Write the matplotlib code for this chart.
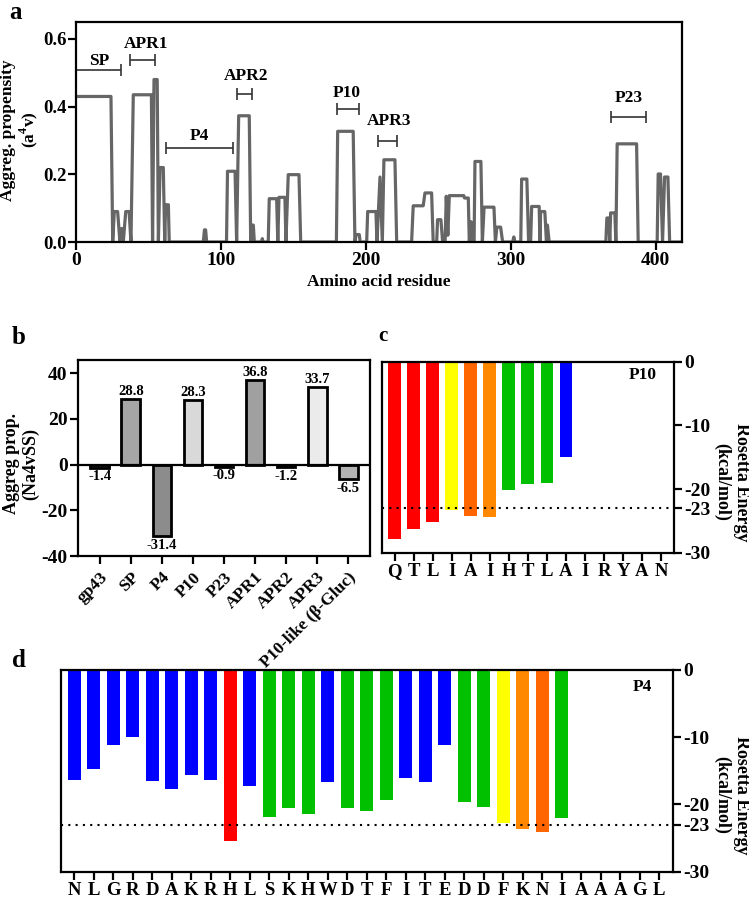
import matplotlib
matplotlib.use('Agg')
import matplotlib.pyplot as plt
import numpy as np

plt.rcParams['font.family'] = ['Liberation Serif', 'DejaVu Serif']
plt.rcParams['font.weight'] = 'bold'
plt.rcParams['axes.labelweight'] = 'bold'
plt.rcParams['mathtext.fontset'] = 'custom'
plt.rcParams['mathtext.rm'] = 'Liberation Serif:bold'
plt.rcParams['mathtext.bf'] = 'Liberation Serif:bold'
plt.rcParams['axes.linewidth'] = 1.6
plt.rcParams['axes.unicode_minus'] = False

# ---- data: panel a (aggregation profile, residue vs propensity)
residue = [0, 24.1, 25.3, 26.4, 28.7, 30.3, 31.5, 32.6, 34.3, 36.6, 37.9, 39.5, 52.0, 52.8,
           53.8, 56.0, 56.8, 58.0, 60.2, 61.2, 61.8, 63.7, 64.3, 87.8, 88.6, 89.4, 90.1,
           103.8, 104.5, 109.7, 110.8, 112.2, 119.5, 120.5, 121.0, 122.3, 123.0, 128.0, 128.5,
           129.0, 132.6, 133.3, 138.4, 139.2, 140.0, 144.1, 144.8, 146.4, 153.8, 155.0, 179.6,
           180.5, 191.2, 192.4, 193.2, 195.4, 196.0, 200.5, 201.2, 206.9, 207.6, 209.7, 211.3,
           212.4, 220.0, 221.2, 231.5, 232.6, 239.5, 240.7, 245.3, 246.4, 248.8, 249.4, 251.7,
           252.9, 254.6, 255.4, 256.5, 257.5, 267.5, 268.0, 270.6, 271.3, 272.5, 273.5, 274.6,
           275.2, 279.3, 280.3, 281.5, 288.3, 289.3, 290.3, 292.9, 294.3, 301.2, 302.0, 302.8,
           306.8, 307.4, 311.0, 312.2, 313.6, 314.3, 319.5, 320.0, 320.5, 323.4, 324.5, 325.2,
           326.4, 365.5, 366.2, 367.6, 368.2, 368.8, 371.7, 372.4, 373.3, 386.7, 387.8, 400.9,
           401.6, 403.2, 404.6, 406.0, 408.3, 409.5, 418.0]
propensity = [0.43, 0.43, 0, 0.09, 0.09, 0, 0.04, 0, 0.09, 0.09, 0, 0.435, 0.435, 0,
              0.48, 0.48, 0, 0.22, 0.22, 0, 0.11, 0.11, 0, 0, 0.036, 0.036, 0,
              0, 0.209, 0.209, 0, 0.373, 0.373, 0, 0.05, 0.05, 0, 0, 0.01,
              0, 0, 0.128, 0.128, 0, 0.132, 0.132, 0, 0.199, 0.199, 0, 0,
              0.327, 0.327, 0, 0.022, 0.022, 0, 0, 0.09, 0.09, 0, 0.192, 0,
              0.243, 0.243, 0, 0, 0.107, 0.107, 0.145, 0.145, 0, 0, 0.066, 0.066,
              0, 0, 0.135, 0.02, 0.137, 0.137, 0.13, 0.13, 0, 0.06, 0, 0,
              0.238, 0.238, 0, 0.103, 0.103, 0, 0.044, 0.044, 0, 0, 0.015, 0,
              0, 0.186, 0.186, 0, 0, 0.105, 0.105, 0, 0.09, 0.09, 0, 0.05,
              0, 0, 0.071, 0.071, 0, 0.086, 0.086, 0, 0.29, 0.29, 0, 0,
              0.201, 0.201, 0, 0.192, 0.192, 0, 0]

# annotated regions in panel a
region_names = ['SP', 'APR1', 'P4', 'APR2', 'P10', 'APR3', 'P23']
region_start = [0, 37, 62, 110.8, 180, 208.5, 369]
region_end = [31, 54.3, 108, 121.6, 195, 221.6, 393]
region_bar_y = [0.507, 0.538, 0.279, 0.436, 0.393, 0.297, 0.368]
region_label_x = [16, 48, 85, 117, 187, 216, 381]
region_label_y = [0.536, 0.586, 0.312, 0.49, 0.44, 0.358, 0.424]

# ---- panel b
peptides = ['gp43', 'SP', 'P4', 'P10', 'P23', 'APR1', 'APR2', 'APR3', 'P10-like (β-Gluc)']
na4vss = [-1.4, 28.8, -31.4, 28.3, -0.9, 36.8, -1.2, 33.7, -6.5]
b_colors = ['#808080', '#a6a6a6', '#8c8c8c', '#d9d9d9', '#808080', '#a0a0a0', '#808080',
            '#ebebeb', '#b3b3b3']

# ---- panel c (P10)
p10_seq = ['Q', 'T', 'L', 'I', 'A', 'I', 'H', 'T', 'L', 'A', 'I', 'R', 'Y', 'A', 'N']
p10_energy = [-27.8, -26.3, -25.2, -23.2, -24.2, -24.35, -20.1, -19.2, -19.0, -15.0]
p10_colors = ['#ff0000', '#ff0000', '#ff0000', '#ffff00', '#ff6600', '#ff8800',
              '#00c000', '#00c000', '#00c000', '#0000ff']

# ---- panel d (P4)
p4_seq = ['N', 'L', 'G', 'R', 'D', 'A', 'K', 'R', 'H', 'L', 'S', 'K', 'H', 'W', 'D', 'T',
          'F', 'I', 'T', 'E', 'D', 'D', 'F', 'K', 'N', 'I', 'A', 'A', 'A', 'G', 'L']
p4_energy = [-16.3, -14.8, -11.2, -9.9, -16.5, -17.7, -15.6, -16.3, -25.4, -17.3, -21.9,
             -20.5, -21.4, -16.7, -20.6, -21.0, -19.3, -16.0, -16.6, -11.1, -19.6, -20.4,
             -22.7, -23.7, -24.1, -22.0]
p4_colors = ['#0000ff'] * 8 + ['#ff0000', '#0000ff'] + ['#00c000'] * 3 + ['#0000ff'] + \
            ['#00c000'] * 3 + ['#0000ff'] * 3 + ['#00c000'] * 2 + ['#ffff00', '#ff8800',
                                                                  '#ff6600', '#00c000']

threshold = -23

fig = plt.figure(figsize=(7.49, 8.98), dpi=100)

def style_ticks(ax, size=14):
    ax.tick_params(direction='out', length=5.5, width=1.6, labelsize=size, pad=2)

def side_label(ax, x, y, text, rot, spacing=1.2, size=13):
    ax.text(x, y, text, transform=ax.transAxes, rotation=rot, ha='center', va='center',
            rotation_mode='anchor', fontsize=size, linespacing=spacing)

# ---------------- panel a
ax_a = fig.add_axes([0.1015, 0.7305, 0.809, 0.245])
ax_a.plot(residue, propensity, color='#666666', lw=2.3)
for name, s, e, by, lx, ly in zip(region_names, region_start, region_end, region_bar_y,
                                  region_label_x, region_label_y):
    ax_a.errorbar((s + e) / 2, by, xerr=(e - s) / 2, fmt='none', ecolor='#333333',
                  elinewidth=1.2, capsize=4, capthick=1.2, clip_on=False)
    ax_a.text(lx, ly, name, ha='center', va='center', fontsize=12.5)
ax_a.set_xlim(0, 418)
ax_a.set_ylim(0, 0.65)
ax_a.set_xticks([0, 100, 200, 300, 400])
ax_a.set_yticks([0.0, 0.2, 0.4, 0.6])
ax_a.set_yticklabels(['0.0', '0.2', '0.4', '0.6'])
style_ticks(ax_a)
ax_a.tick_params(axis='y', labelsize=13.5, pad=1.5)
ax_a.set_xlabel('Amino acid residue', fontsize=12.5, labelpad=3)
side_label(ax_a, -0.092, 0.51, 'Aggreg. propensity\n(a$^{4}$v)', 90, spacing=1.1, size=12.5)
fig.text(0.012, 0.986, 'a', fontsize=18, va='center')

# ---------------- panel b
ax_b = fig.add_axes([0.1041, 0.3808, 0.3899, 0.2183])
xb = np.arange(len(peptides))
ax_b.bar(xb, na4vss, width=0.6, color=b_colors, edgecolor='black', linewidth=2)
ax_b.axhline(0, color='black', lw=1.6)
for x, v in zip(xb, na4vss):
    if v >= 0:
        ax_b.text(x, v + 0.5, f'{v:.1f}', ha='center', va='bottom', fontsize=10.5)
    else:
        ax_b.text(x, v - 1.0, f'{v:.1f}', ha='center', va='top', fontsize=10.5)
ax_b.set_xlim(-0.7, 8.7)
ax_b.set_ylim(-40, 45.7)
ax_b.set_yticks([-40, -20, 0, 20, 40])
ax_b.set_xticks(xb)
ax_b.set_xticklabels(peptides, rotation=45, ha='right', rotation_mode='anchor')
style_ticks(ax_b)
ax_b.tick_params(axis='x', labelsize=12.5, pad=4)
side_label(ax_b, -0.195, 0.47, 'Aggreg prop.\n(Na4vSS)', 90)
fig.text(0.016, 0.624, 'b', fontsize=18, va='center')

# ---------------- panel c
def energy_panel(ax, seq, energy, colors, name, lab_x, lab_y):
    xs = np.arange(len(energy))
    ax.bar(xs, energy, width=0.67, color=colors, edgecolor='none')
    ax.axhline(threshold, color='black', lw=1.5, ls=(0, (1, 2.5)))
    ax.set_xlim(-0.68, len(seq) - 0.32)
    ax.set_ylim(-30, 0)
    ax.set_xticks(np.arange(len(seq)))
    ax.set_xticklabels(seq)
    ax.yaxis.tick_right()
    ax.set_yticks([0, -10, -20, -23, -30])
    style_ticks(ax)
    ax.tick_params(axis='x', labelsize=13.5, pad=2)
    ax.text(lab_x, lab_y, name, transform=ax.transAxes, ha='center', va='center',
            fontsize=12.5)

ax_c = fig.add_axes([0.5096, 0.3842, 0.3903, 0.213])
energy_panel(ax_c, p10_seq, p10_energy, p10_colors, 'P10', 0.894, 0.93)
side_label(ax_c, 1.198, 0.37, 'Rosetta Energy\n(kcal/mol)', 270)
fig.text(0.505, 0.626, 'c', fontsize=15, va='center')

# ---------------- panel d
ax_d = fig.add_axes([0.0814, 0.0293, 0.8167, 0.2246])
energy_panel(ax_d, p4_seq, p4_energy, p4_colors, 'P4', 0.951, 0.916)
side_label(ax_d, 1.097, 0.38, 'Rosetta Energy\n(kcal/mol)', 270)
fig.text(0.016, 0.265, 'd', fontsize=18, va='center')

fig.savefig('out.png', dpi=100)
